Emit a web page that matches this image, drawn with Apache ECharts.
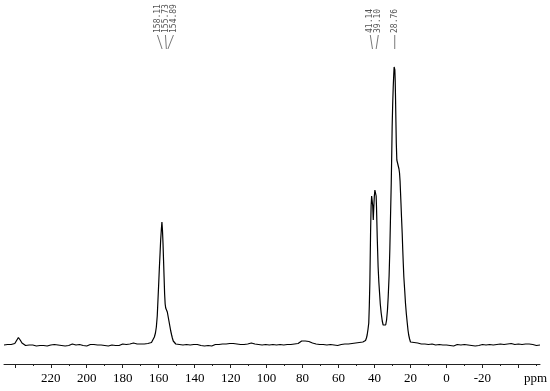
<!DOCTYPE html>
<html>
<head>
<meta charset="utf-8">
<title>13C NMR spectrum</title>
<script src="https://cdn.jsdelivr.net/npm/echarts@6/dist/echarts.min.js"></script>
<style>
  html, body { margin: 0; padding: 0; background: #fff; }
  #chart { width: 550px; height: 391px; }
</style>
</head>
<body>
<div id="chart"></div>
<script>
// spectrum: [ppm, intensity above baseline]
const spectrum = [
  [246, 1], [245, 0], [244, 1.5], [243, 1], [242, 1.5], [241, 0.5], [240, 2.5], [239, 4],
  [238, 8.5], [237, 6], [236, 3], [235, 2], [234, 0.5], [233, 1.5], [232, 1], [231, 0],
  [230, 1], [229, 1.5], [228, 0], [227, 1], [226, 0.5], [225, 2], [224, 0.5], [223, 1],
  [222, 0], [221, 1.5], [220, 1], [219, 0.5], [218, 1.5], [217, 0], [216, 1], [215, 1.5],
  [214, 0.5], [213, 1], [212, 0], [211, 1.5], [210, 0.5], [209, 1], [208, 2], [207, 0.5],
  [206, 1], [205, 0], [204, 1.5], [203, 1], [202, 0.5], [201, 1.5], [200, 0], [199, 1],
  [198, 1.5], [197, 0.5], [196, 1.5], [195, 0], [194, 1], [193, 2], [192, 1], [191, 1.5],
  [190, 0.5], [189, 1], [188, 0], [187, 1.5], [186, 1], [185, 2], [184, 0.5], [183, 1.5],
  [182, 0.5], [181, 1], [180, 2], [179, 0.5], [178, 1.5], [177, 1], [176, 2], [175, 2.5],
  [174, 3], [173, 1.5], [172, 2], [171, 1], [170, 2], [169, 1], [168, 2], [167, 1.5],
  [166, 2.5], [165, 2], [164, 3.5], [163, 5], [162.4, 9], [161.8, 13],
  [161.3, 19], [160.8, 30], [160.4, 46], [160.0, 62], [159.6, 79], [159.2, 94], [158.9, 106],
  [158.5, 117], [158.2, 124], [157.9, 116], [157.6, 103], [157.3, 86], [157.0, 69], [156.7, 52],
  [156.4, 42], [156.1, 38], [155.8, 40], [155.5, 36], [155.2, 34], [154.9, 31], [154.6, 28],
  [154.3, 25], [153.8, 20], [153.3, 15], [152.8, 11], [152.4, 8], [151.9, 5], [151.5, 3],
  [150.5, 2], [149.5, 1], [148.5, 1.5], [147.5, 0], [146.5, 1], [145.5, 0.5], [144.5, 1.5],
  [143.5, 0], [142.5, 1], [141.5, 0.5], [140.5, 1.5], [139.5, 0], [138.5, 1.5], [137.5, 1],
  [136.5, 0.5], [135.5, 1.5], [134.5, 0], [133.5, 1], [132.5, 0.5], [131.5, 1.5], [130.5, 0],
  [129.5, 1], [128.5, 1.5], [127.5, 0.5], [126.5, 1.5], [125.5, 1], [124.5, 2], [123.5, 1],
  [122.5, 2], [121.5, 1.5], [120.5, 2.5], [119.5, 1.5], [118.5, 2.5], [117.5, 1.5], [116.5, 2],
  [115.5, 1], [114.5, 1.5], [113.5, 0.5], [112.5, 1.5], [111.5, 1], [110.5, 2], [109.5, 2],
  [108.5, 3], [107.5, 1.5], [106.5, 2], [105.5, 0.5], [104.5, 1.5], [103.5, 0.5], [102.5, 1],
  [101.5, 0], [100.5, 1.5], [99.5, 0.5], [98.5, 1], [97.5, 0], [96.5, 1.5], [95.5, 0.5],
  [94.5, 1], [93.5, 0.5], [92.5, 1.5], [91.5, 0], [90.5, 1], [89.5, 0.5], [88.5, 1.5],
  [87.5, 1], [86.5, 1.5], [85.5, 1], [84.5, 2], [83.5, 1.5], [82.5, 2.5], [81.5, 3.5],
  [80.5, 5], [79.5, 7], [78.5, 5], [77.5, 3.5], [76.5, 4.5], [75.5, 2.5], [74.5, 3],
  [73.5, 1.5], [72.5, 2], [71.5, 0.5], [70.5, 1.5], [69.5, 0.5], [68.5, 1.5], [67.5, 0],
  [66.5, 1], [65.5, 0.5], [64.5, 1.5], [63.5, 0.5], [62.5, 1], [61.5, 1.5], [60.5, 0.5],
  [59.5, 1], [58.5, 1.5], [57.5, 0.5], [56.5, 2], [55.5, 1], [54.5, 2], [53.5, 1.5],
  [52.5, 2.5], [51.5, 2], [50.5, 3], [49.5, 2.5], [48.5, 3.5], [47.5, 3], [46.5, 4],
  [45.5, 4], [45, 5.5], [44.5, 8], [44.1, 11], [43.6, 17], [43.2, 23], [42.9, 40],
  [42.6, 63], [42.2, 113], [41.9, 140], [41.6, 150], [41.3, 151], [41.0, 140], [40.7, 126],
  [40.4, 139], [40.1, 150], [39.8, 156], [39.4, 157], [39.1, 150], [38.9, 139], [38.5, 109],
  [38.0, 79], [37.6, 64], [37.2, 53], [36.8, 42], [36.3, 33], [35.7, 25], [35.2, 21],
  [34.7, 19.5], [34.3, 19], [33.8, 21], [33.3, 26], [32.8, 36], [32.4, 49], [31.9, 70],
  [31.5, 96], [31.1, 130], [30.7, 163], [30.4, 195], [30.2, 219], [29.9, 242], [29.6, 259],
  [29.3, 272], [29.1, 279], [28.9, 279], [28.7, 276], [28.5, 265], [28.3, 246], [28.1, 224],
  [27.9, 203], [27.6, 186], [27.2, 183], [26.8, 181], [26.4, 177], [26.1, 173], [25.8, 165],
  [25.6, 156], [25.3, 143], [25.0, 129], [24.6, 112], [24.3, 96], [24.0, 82], [23.7, 69],
  [23.2, 55], [22.8, 43], [22.3, 32], [21.8, 23], [21.4, 16], [21.0, 11], [20.5, 7],
  [20.0, 4], [19.0, 2], [18, 3.5], [17, 2.5], [16, 3], [15, 1.5], [14, 2], [13, 1],
  [12, 2], [11, 0.5], [10, 1.5], [9, 1], [8, 2], [7, 0.5], [6, 1], [5, 0.5],
  [4, 1.5], [3, 0.5], [2, 1], [1, 0], [0, 1], [-1, 1.5], [-2, 0.5], [-3, 1],
  [-4, 0], [-5, 1], [-6, 1.5], [-7, 0.5], [-8, 1], [-9, 0], [-10, 1.5], [-11, 0.5],
  [-12, 1], [-13, 1.5], [-14, 0.5], [-15, 1], [-16, 0], [-17, 1.5], [-18, 0.5], [-19, 1],
  [-20, 1.5], [-21, 0], [-22, 1], [-23, 0.5], [-24, 1.5], [-25, 0.5], [-26, 1], [-27, 0],
  [-28, 1.5], [-29, 1], [-30, 2], [-31, 0.5], [-32, 1.5], [-33, 1], [-34, 2], [-35, 0.5],
  [-36, 2.5], [-37, 1], [-38, 1.5], [-39, 0.5], [-40, 2], [-41, 1], [-42, 1.5], [-43, 0.5],
  [-44, 2], [-45, 1], [-46, 2], [-47, 1], [-48, 1.5], [-49, 2], [-50, 0.5], [-51, 1.5],
  [-52, 1]
];

const majorTicks = [240, 220, 200, 180, 160, 140, 120, 100, 80, 60, 40, 20, 0, -20, -40];
const tickLabels = [220, 200, 180, 160, 140, 120, 100, 80, 60, 40, 20, 0, -20];
const minorTicks = [230, 210, 190, 170, 150, 130, 110, 90, 70, 50, 30, 10, -10, -30, -50];
const peakLabels = [158.11, 155.73, 154.89, 41.14, 39.10, 28.76];

let chart = echarts.init(document.getElementById('chart'), null, { renderer: 'canvas' });

// one x axis carries the line and labels, two more only draw tick marks
function tickAxis(values, len) {
    return {
        type: 'value',
        inverse: true,
        min: -52,
        max: 246,
        position: 'bottom',
        axisLine: { show: false, onZero: false },
        axisTick: { show: true, customValues: values, length: len, lineStyle: { color: '#222', width: 1 } },
        axisLabel: { show: false },
        splitLine: { show: false }
    };
}

let option = {
    animation: false,
    backgroundColor: '#fff',
    grid: { left: 4, right: 10, top: 46, bottom: 27, containLabel: false, outerBoundsMode: 'none' },
    xAxis: [{
        type: 'value',
        inverse: true,
        min: -52,
        max: 246,
        position: 'bottom',
        axisLine: { onZero: false, lineStyle: { color: '#222', width: 1 } },
        axisTick: { show: false },
        axisLabel: {
            customValues: tickLabels,
            margin: 8,
            fontFamily: 'Liberation Serif',
            fontSize: 13,
            color: '#000'
        },
        splitLine: { show: false }
    }, tickAxis(majorTicks, 4), tickAxis(minorTicks, 2)],
    yAxis: { type: 'value', min: -18, max: 300, show: false },
    series: [{
        type: 'line',
        data: spectrum,
        showSymbol: false,
        silent: true,
        lineStyle: { color: '#000', width: 1.2 }
    }]
};
chart.setOption(option);

// peak labels on top, spread apart where they crowd, with leader lines
function peakGraphics() {
    let px = peakLabels.map(p => chart.convertToPixel({ xAxisIndex: 0 }, p));
    let groups = [];
    px.forEach((x, i) => {
        let g = groups[groups.length - 1];
        if (g && x - px[g[g.length - 1]] < 8) g.push(i);
        else groups.push([i]);
    });
    let items = [];
    groups.forEach(g => {
        let mean = g.reduce((s, i) => s + px[i], 0) / g.length;
        g.forEach((i, k) => {
            let lx = mean + (k - (g.length - 1) / 2) * 8;
            items.push({
                type: 'text', x: lx, y: 33, rotation: Math.PI / 2,
                style: {
                    text: peakLabels[i].toFixed(2),
                    font: '8px "DejaVu Sans Mono"',
                    fill: '#555',
                    align: 'left',
                    verticalAlign: 'middle'
                }
            });
            items.push({
                type: 'line',
                shape: { x1: lx, y1: 35, x2: px[i], y2: 49 },
                style: { stroke: '#555', lineWidth: 0.8 }
            });
        });
    });
    let axisY = chart.convertToPixel({ yAxisIndex: 0 }, -18);
    items.push({
        type: 'text',
        x: chart.convertToPixel({ xAxisIndex: 0 }, -49.5),
        y: axisY + 8,
        style: { text: 'ppm', font: '13px "Liberation Serif"', fill: '#000', align: 'center', verticalAlign: 'top' }
    });
    return items;
}

chart.setOption({ graphic: peakGraphics() });
</script>
</body>
</html>
